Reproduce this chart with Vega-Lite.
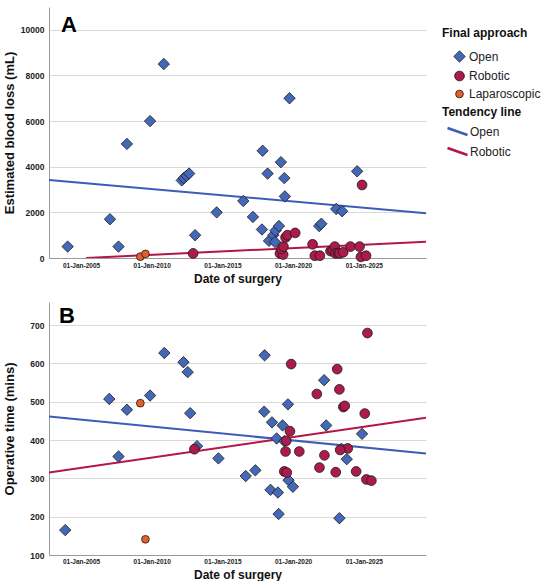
{
  "$schema": "https://vega.github.io/schema/vega-lite/v6.json",
  "padding": {"left": 3, "top": 7, "right": 0, "bottom": 0},
  "background": "white",
  "spacing": 17,
  "config": {
    "font": "Liberation Sans",
    "view": {"stroke": null},
    "axis": {"labelColor": "#222", "titleColor": "#111", "domainColor": "#9a9a9a", "gridColor": "#d9d9d9", "ticks": false, "tickSize": 0}
  },
  "datasets": {
    "blood": [
      {"date": "2004-01-22", "approach": "Open", "value": 500},
      {"date": "2007-01-19", "approach": "Open", "value": 1700},
      {"date": "2007-08-28", "approach": "Open", "value": 500},
      {"date": "2008-04-01", "approach": "Open", "value": 5000},
      {"date": "2009-11-20", "approach": "Open", "value": 6000},
      {"date": "2010-11-10", "approach": "Open", "value": 8500},
      {"date": "2012-02-17", "approach": "Open", "value": 3400},
      {"date": "2012-04-08", "approach": "Open", "value": 3500},
      {"date": "2012-06-17", "approach": "Open", "value": 3600},
      {"date": "2012-08-25", "approach": "Open", "value": 3700},
      {"date": "2013-01-26", "approach": "Open", "value": 1000},
      {"date": "2014-08-07", "approach": "Open", "value": 2000},
      {"date": "2016-06-24", "approach": "Open", "value": 2500},
      {"date": "2017-02-28", "approach": "Open", "value": 1800},
      {"date": "2017-10-19", "approach": "Open", "value": 1250},
      {"date": "2017-11-06", "approach": "Open", "value": 4700},
      {"date": "2018-03-14", "approach": "Open", "value": 3700},
      {"date": "2018-04-20", "approach": "Open", "value": 750},
      {"date": "2018-08-08", "approach": "Open", "value": 1000},
      {"date": "2018-09-21", "approach": "Open", "value": 700},
      {"date": "2018-10-05", "approach": "Open", "value": 1200},
      {"date": "2019-01-01", "approach": "Open", "value": 1400},
      {"date": "2019-02-21", "approach": "Open", "value": 4200},
      {"date": "2019-05-19", "approach": "Open", "value": 3500},
      {"date": "2019-06-03", "approach": "Open", "value": 2700},
      {"date": "2019-10-01", "approach": "Open", "value": 7000},
      {"date": "2021-11-06", "approach": "Open", "value": 1400},
      {"date": "2022-01-01", "approach": "Open", "value": 1500},
      {"date": "2023-01-19", "approach": "Open", "value": 2150},
      {"date": "2023-06-21", "approach": "Open", "value": 2050},
      {"date": "2024-07-13", "approach": "Open", "value": 3800},
      {"date": "2012-12-06", "approach": "Robotic", "value": 200},
      {"date": "2019-01-26", "approach": "Robotic", "value": 200},
      {"date": "2019-04-20", "approach": "Robotic", "value": 150},
      {"date": "2019-03-07", "approach": "Robotic", "value": 400},
      {"date": "2019-04-27", "approach": "Robotic", "value": 500},
      {"date": "2019-06-21", "approach": "Robotic", "value": 900},
      {"date": "2019-08-08", "approach": "Robotic", "value": 1000},
      {"date": "2020-02-25", "approach": "Robotic", "value": 1100},
      {"date": "2021-05-19", "approach": "Robotic", "value": 600},
      {"date": "2021-07-16", "approach": "Robotic", "value": 100},
      {"date": "2021-11-24", "approach": "Robotic", "value": 100},
      {"date": "2022-08-25", "approach": "Robotic", "value": 300},
      {"date": "2022-10-19", "approach": "Robotic", "value": 340},
      {"date": "2022-12-13", "approach": "Robotic", "value": 500},
      {"date": "2023-01-01", "approach": "Robotic", "value": 200},
      {"date": "2023-03-10", "approach": "Robotic", "value": 220},
      {"date": "2023-04-20", "approach": "Robotic", "value": 200},
      {"date": "2023-07-19", "approach": "Robotic", "value": 250},
      {"date": "2024-01-22", "approach": "Robotic", "value": 500},
      {"date": "2024-09-13", "approach": "Robotic", "value": 500},
      {"date": "2024-10-19", "approach": "Robotic", "value": 50},
      {"date": "2025-02-28", "approach": "Robotic", "value": 100},
      {"date": "2024-11-17", "approach": "Robotic", "value": 3200},
      {"date": "2009-03-14", "approach": "Laparoscopic", "value": 60},
      {"date": "2009-07-23", "approach": "Laparoscopic", "value": 180}
    ],
    "optime": [
      {"date": "2003-11-20", "approach": "Open", "value": 165},
      {"date": "2007-01-01", "approach": "Open", "value": 507},
      {"date": "2007-08-28", "approach": "Open", "value": 357},
      {"date": "2008-04-01", "approach": "Open", "value": 479},
      {"date": "2009-11-20", "approach": "Open", "value": 516},
      {"date": "2010-11-24", "approach": "Open", "value": 627},
      {"date": "2012-04-01", "approach": "Open", "value": 603},
      {"date": "2012-07-19", "approach": "Open", "value": 577},
      {"date": "2012-09-21", "approach": "Open", "value": 470},
      {"date": "2013-03-17", "approach": "Open", "value": 384},
      {"date": "2014-09-21", "approach": "Open", "value": 352},
      {"date": "2016-08-25", "approach": "Open", "value": 306},
      {"date": "2017-05-01", "approach": "Open", "value": 321},
      {"date": "2017-12-27", "approach": "Open", "value": 621},
      {"date": "2017-12-16", "approach": "Open", "value": 474},
      {"date": "2018-05-29", "approach": "Open", "value": 270},
      {"date": "2018-07-05", "approach": "Open", "value": 446},
      {"date": "2018-11-03", "approach": "Open", "value": 404},
      {"date": "2018-12-06", "approach": "Open", "value": 263},
      {"date": "2018-12-24", "approach": "Open", "value": 207},
      {"date": "2019-04-05", "approach": "Open", "value": 438},
      {"date": "2019-05-19", "approach": "Open", "value": 397},
      {"date": "2019-08-22", "approach": "Open", "value": 493},
      {"date": "2019-09-06", "approach": "Open", "value": 295},
      {"date": "2019-12-28", "approach": "Open", "value": 278},
      {"date": "2022-03-14", "approach": "Open", "value": 556},
      {"date": "2022-05-05", "approach": "Open", "value": 438},
      {"date": "2023-06-03", "approach": "Open", "value": 377},
      {"date": "2023-10-19", "approach": "Open", "value": 350},
      {"date": "2023-04-12", "approach": "Open", "value": 196},
      {"date": "2024-11-17", "approach": "Open", "value": 416},
      {"date": "2013-01-08", "approach": "Robotic", "value": 376},
      {"date": "2019-11-13", "approach": "Robotic", "value": 598},
      {"date": "2019-10-12", "approach": "Robotic", "value": 423},
      {"date": "2019-07-09", "approach": "Robotic", "value": 398},
      {"date": "2019-06-21", "approach": "Robotic", "value": 370},
      {"date": "2019-05-19", "approach": "Robotic", "value": 318},
      {"date": "2019-07-23", "approach": "Robotic", "value": 315},
      {"date": "2020-06-10", "approach": "Robotic", "value": 370},
      {"date": "2021-09-06", "approach": "Robotic", "value": 520},
      {"date": "2021-11-13", "approach": "Robotic", "value": 328},
      {"date": "2022-03-21", "approach": "Robotic", "value": 360},
      {"date": "2023-02-14", "approach": "Robotic", "value": 585},
      {"date": "2023-04-12", "approach": "Robotic", "value": 532},
      {"date": "2023-07-23", "approach": "Robotic", "value": 486},
      {"date": "2023-08-28", "approach": "Robotic", "value": 489},
      {"date": "2023-11-13", "approach": "Robotic", "value": 378},
      {"date": "2023-01-08", "approach": "Robotic", "value": 316},
      {"date": "2023-05-01", "approach": "Robotic", "value": 374},
      {"date": "2024-06-17", "approach": "Robotic", "value": 318},
      {"date": "2025-01-26", "approach": "Robotic", "value": 469},
      {"date": "2025-03-10", "approach": "Robotic", "value": 297},
      {"date": "2025-07-16", "approach": "Robotic", "value": 294},
      {"date": "2025-04-05", "approach": "Robotic", "value": 679},
      {"date": "2009-03-14", "approach": "Laparoscopic", "value": 496},
      {"date": "2009-07-23", "approach": "Laparoscopic", "value": 141}
    ],
    "bloodTrend": [
      {"date": "2002-09-27", "line": "Open", "value": 3420},
      {"date": "2029-05-27", "line": "Open", "value": 1960},
      {"date": "2005-05-10", "line": "Robotic", "value": 0},
      {"date": "2029-05-27", "line": "Robotic", "value": 715}
    ],
    "timeTrend": [
      {"date": "2002-09-27", "line": "Open", "value": 461},
      {"date": "2029-05-27", "line": "Open", "value": 365},
      {"date": "2002-09-27", "line": "Robotic", "value": 315},
      {"date": "2029-05-27", "line": "Robotic", "value": 458}
    ]
  },
  "resolve": {
    "scale": {"fill": "independent", "shape": "independent", "size": "independent", "stroke": "independent"},
    "legend": {"fill": "independent", "shape": "independent", "size": "independent", "stroke": "independent"}
  },
  "vconcat": [
    {
      "width": 377,
      "height": 251,
      "layer": [
        {
          "data": {"name": "bloodTrend"},
          "mark": {"type": "line", "strokeWidth": 2, "clip": true},
          "encoding": {
            "x": {
              "field": "date", "type": "temporal",
              "scale": {"type": "utc", "domain": [{"year": 2002, "month": 9, "date": 27, "utc": true}, {"year": 2029, "month": 5, "date": 27, "utc": true}]},
              "axis": {"title": "Date of surgery", "values": [{"year": 2005, "month": 1, "date": 1, "utc": true}, {"year": 2010, "month": 1, "date": 1, "utc": true}, {"year": 2015, "month": 1, "date": 1, "utc": true}, {"year": 2020, "month": 1, "date": 1, "utc": true}, {"year": 2025, "month": 1, "date": 1, "utc": true}], "format": "%d-%b-%Y", "grid": false, "labelFontSize": 6.5, "labelFontWeight": "bold", "labelPadding": 4, "titleFontSize": 12, "titleFontWeight": "bold", "titlePadding": 5}
            },
            "y": {
              "field": "value", "type": "quantitative",
              "scale": {"domain": [0, 11000], "nice": false},
              "axis": {"title": "Estimated blood loss (mL)", "values": [0, 2000, 4000, 6000, 8000, 10000], "format": "d", "grid": true, "labelFontSize": 8.5, "labelFontWeight": "bold", "labelPadding": 5, "titleFontSize": 13, "titleFontWeight": "bold", "titlePadding": 4}
            },
            "stroke": {
              "field": "line", "type": "nominal",
              "scale": {"domain": ["Open", "Robotic"], "range": ["#3d5cb8", "#b3164c"]},
              "legend": {"title": "Tendency line", "orient": "none", "legendX": 393, "legendY": 100, "padding": 0, "titleFontSize": 12, "titleFontWeight": "bold", "titleColor": "#111", "titlePadding": 1, "labelFontSize": 12, "labelColor": "#222", "symbolType": "M-1,-0.35L1,0.35", "symbolSize": 400, "symbolStrokeWidth": 2.5, "symbolOffset": 4, "labelOffset": 1, "rowPadding": 0}
            }
          }
        },
        {
          "data": {"name": "blood"},
          "mark": {"type": "point", "filled": true, "stroke": "#1a1a1a", "strokeWidth": 0.8, "opacity": 1},
          "encoding": {
            "x": {"field": "date", "type": "temporal"},
            "y": {"field": "value", "type": "quantitative"},
            "fill": {
              "field": "approach", "type": "nominal",
              "scale": {"domain": ["Open", "Robotic", "Laparoscopic"], "range": ["#4468b8", "#ad1a4c", "#e45f2b"]},
              "legend": {"title": "Final approach", "orient": "none", "legendX": 393, "legendY": 21, "padding": 0, "titleFontSize": 12, "titleFontWeight": "bold", "titleColor": "#111", "titlePadding": 10, "labelFontSize": 12, "labelColor": "#222", "symbolStrokeColor": "#1a1a1a", "symbolStrokeWidth": 0.8, "symbolOffset": 11, "labelOffset": 3, "rowPadding": 5}
            },
            "shape": {
              "field": "approach", "type": "nominal",
              "scale": {"domain": ["Open", "Robotic", "Laparoscopic"], "range": ["diamond", "circle", "circle"]},
              "legend": {"title": "Final approach", "orient": "none", "legendX": 393, "legendY": 21}
            },
            "size": {
              "field": "approach", "type": "nominal",
              "scale": {"domain": ["Open", "Robotic", "Laparoscopic"], "range": [130, 60, 60]},
              "legend": {"title": "Final approach", "orient": "none", "legendX": 393, "legendY": 21}
            }
          }
        },
        {
          "data": {"values": [{"panel": "A"}]},
          "mark": {"type": "text", "fontSize": 22, "fontWeight": "bold", "color": "#000", "align": "left", "baseline": "alphabetic"},
          "encoding": {
            "x": {"datum": {"year": 2003, "month": 8, "date": 1, "utc": true}, "type": "temporal"},
            "y": {"datum": 9900, "type": "quantitative"},
            "text": {"field": "panel"}
          }
        }
      ]
    },
    {
      "width": 377,
      "height": 253,
      "layer": [
        {
          "data": {"name": "timeTrend"},
          "mark": {"type": "line", "strokeWidth": 2, "clip": true},
          "encoding": {
            "x": {
              "field": "date", "type": "temporal",
              "scale": {"type": "utc", "domain": [{"year": 2002, "month": 9, "date": 27, "utc": true}, {"year": 2029, "month": 5, "date": 27, "utc": true}]},
              "axis": {"title": "Date of surgery", "values": [{"year": 2005, "month": 1, "date": 1, "utc": true}, {"year": 2010, "month": 1, "date": 1, "utc": true}, {"year": 2015, "month": 1, "date": 1, "utc": true}, {"year": 2020, "month": 1, "date": 1, "utc": true}, {"year": 2025, "month": 1, "date": 1, "utc": true}], "format": "%d-%b-%Y", "grid": false, "labelFontSize": 6.5, "labelFontWeight": "bold", "labelPadding": 3, "titleFontSize": 12, "titleFontWeight": "bold", "titlePadding": 5}
            },
            "y": {
              "field": "value", "type": "quantitative",
              "scale": {"domain": [100, 760], "nice": false, "zero": false},
              "axis": {"title": "Operative time (mins)", "values": [100, 200, 300, 400, 500, 600, 700], "grid": true, "labelFontSize": 8.5, "labelFontWeight": "bold", "labelPadding": 5, "titleFontSize": 13, "titleFontWeight": "bold", "titlePadding": 13}
            },
            "stroke": {"field": "line", "type": "nominal", "scale": {"domain": ["Open", "Robotic"], "range": ["#3d5cb8", "#b3164c"]}, "legend": null}
          }
        },
        {
          "data": {"name": "optime"},
          "mark": {"type": "point", "filled": true, "stroke": "#1a1a1a", "strokeWidth": 0.8, "opacity": 1},
          "encoding": {
            "x": {"field": "date", "type": "temporal"},
            "y": {"field": "value", "type": "quantitative"},
            "fill": {"field": "approach", "type": "nominal", "scale": {"domain": ["Open", "Robotic", "Laparoscopic"], "range": ["#4468b8", "#ad1a4c", "#e45f2b"]}, "legend": null},
            "shape": {"field": "approach", "type": "nominal", "scale": {"domain": ["Open", "Robotic", "Laparoscopic"], "range": ["diamond", "circle", "circle"]}, "legend": null},
            "size": {"field": "approach", "type": "nominal", "scale": {"domain": ["Open", "Robotic", "Laparoscopic"], "range": [130, 60, 60]}, "legend": null}
          }
        },
        {
          "data": {"values": [{"panel": "B"}]},
          "mark": {"type": "text", "fontSize": 22, "fontWeight": "bold", "color": "#000", "align": "left", "baseline": "alphabetic"},
          "encoding": {
            "x": {"datum": {"year": 2003, "month": 6, "date": 15, "utc": true}, "type": "temporal"},
            "y": {"datum": 706, "type": "quantitative"},
            "text": {"field": "panel"}
          }
        }
      ]
    }
  ]
}
